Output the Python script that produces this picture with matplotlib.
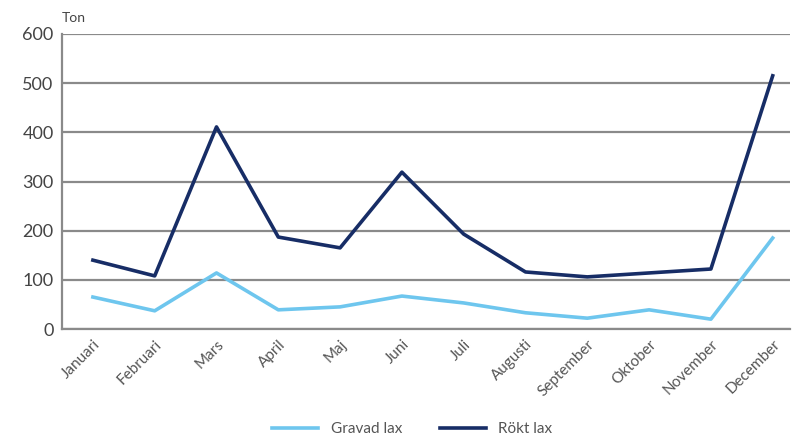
import matplotlib
matplotlib.use("Agg")
import matplotlib.pyplot as plt

# data (ton per month)
months = ["Januari", "Februari", "Mars", "April", "Maj", "Juni", "Juli",
          "Augusti", "September", "Oktober", "November", "December"]
gravad = [65, 37, 114, 39, 45, 67, 53, 33, 22, 39, 20, 185]
rokt = [140, 108, 411, 187, 165, 319, 193, 116, 106, 114, 122, 515]
yticks = [0, 100, 200, 300, 400, 500, 600]

plt.rcParams['font.family'] = ['Lato', 'DejaVu Sans']

fig = plt.figure(figsize=(7.93, 4.43), dpi=100)
ax = fig.add_axes([62 / 793, 1 - 329 / 443, (790 - 62) / 793, (329 - 34) / 443])

x = range(len(months))
ax.plot(x, gravad, color="#6ec6ee", linewidth=2.6, label="Gravad lax")
ax.plot(x, rokt, color="#172d66", linewidth=2.6, label="Rökt lax")

ax.set_ylim(0, 600)
ax.set_xlim(-0.5, 11.28)
ax.set_yticks(yticks)
ax.set_yticklabels([str(v) for v in yticks], fontsize=13, color="#444444")
ax.set_xticks(list(x))
ax.set_xticklabels(months, rotation=45, ha="right", rotation_mode="anchor",
                   fontsize=11, color="#555555")
ax.tick_params(axis="both", length=0, pad=6)

ax.yaxis.grid(True, color="#8a8a8a", linewidth=1.6)
ax.set_axisbelow(True)
for s in ["top", "right"]:
    ax.spines[s].set_visible(False)
for s in ["left", "bottom"]:
    ax.spines[s].set_color("#8a8a8a")
    ax.spines[s].set_linewidth(1.6)

ax.text(0, 1.035, "Ton", transform=ax.transAxes, fontsize=10, color="#444444",
        ha="left", va="bottom")

fig.legend(loc="lower center", bbox_to_anchor=(0.52, -0.015), ncol=2, frameon=False,
           fontsize=11, handlelength=3, columnspacing=2.5, labelcolor="#555555")

fig.savefig("out.png", dpi=100)
